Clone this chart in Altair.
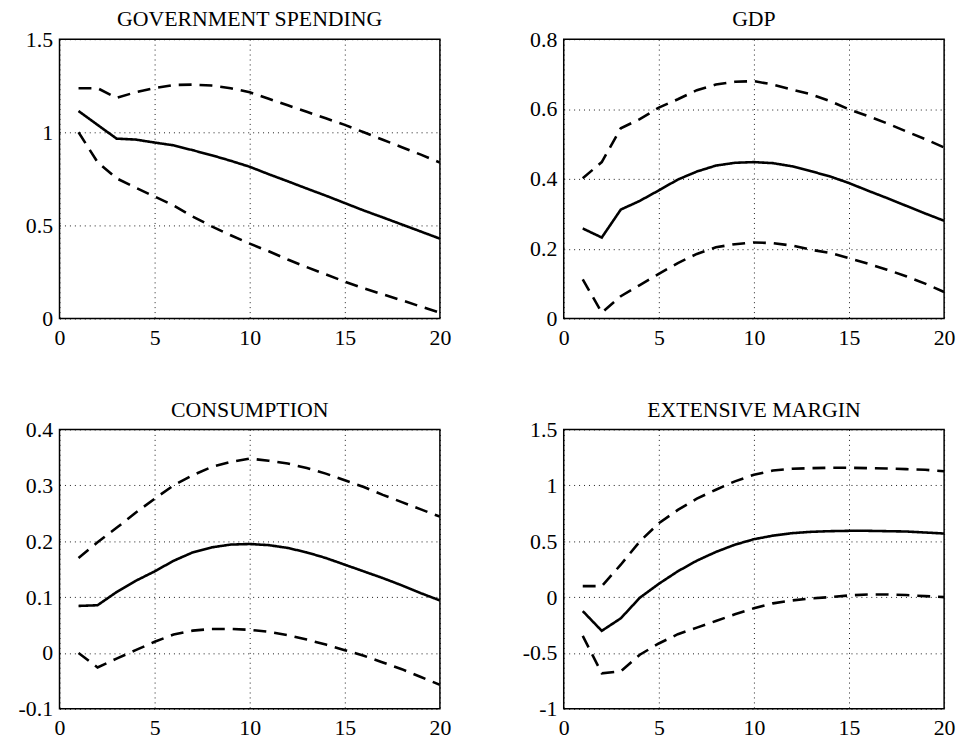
import altair as alt
import pandas as pd

periods = list(range(1, 21))

panel_titles = ["GOVERNMENT SPENDING", "GDP", "CONSUMPTION", "EXTENSIVE MARGIN"]

# GOVERNMENT SPENDING
gov_mid = [1.114, 1.04, 0.966, 0.961, 0.945, 0.93, 0.904, 0.877, 0.847, 0.815,
           0.775, 0.737, 0.698, 0.66, 0.62, 0.58, 0.543, 0.505, 0.467, 0.429]
gov_hi = [1.237, 1.237, 1.185, 1.215, 1.237, 1.254, 1.256, 1.251, 1.237, 1.215,
          1.18, 1.145, 1.11, 1.075, 1.04, 1.0, 0.96, 0.92, 0.88, 0.838]
gov_lo = [1.0, 0.84, 0.753, 0.703, 0.655, 0.607, 0.548, 0.495, 0.447, 0.402,
          0.361, 0.317, 0.276, 0.237, 0.198, 0.162, 0.13, 0.098, 0.064, 0.032]

# GDP
gdp_mid = [0.258, 0.232, 0.312, 0.337, 0.367, 0.398, 0.421, 0.438, 0.446, 0.448,
           0.445, 0.436, 0.422, 0.407, 0.388, 0.366, 0.345, 0.323, 0.301, 0.28]
gdp_hi = [0.402, 0.448, 0.545, 0.571, 0.604, 0.628, 0.654, 0.67, 0.678, 0.68,
          0.67, 0.656, 0.642, 0.623, 0.599, 0.58, 0.559, 0.536, 0.514, 0.49]
gdp_lo = [0.112, 0.017, 0.064, 0.096, 0.128, 0.159, 0.185, 0.204, 0.213, 0.218,
          0.216, 0.209, 0.197, 0.188, 0.173, 0.157, 0.14, 0.121, 0.10, 0.076]

# CONSUMPTION
con_mid = [0.0842, 0.0854, 0.109, 0.129, 0.146, 0.165, 0.18, 0.189, 0.194, 0.195,
           0.193, 0.188, 0.18, 0.17, 0.158, 0.146, 0.134, 0.121, 0.107, 0.094]
con_hi = [0.17, 0.198, 0.224, 0.251, 0.276, 0.30, 0.318, 0.333, 0.342, 0.348,
          0.344, 0.339, 0.331, 0.321, 0.309, 0.297, 0.283, 0.27, 0.257, 0.244]
con_lo = [0.0, -0.026, -0.01, 0.005, 0.02, 0.033, 0.04, 0.043, 0.043, 0.0415,
          0.038, 0.032, 0.024, 0.015, 0.005, -0.005, -0.017, -0.029, -0.043, -0.057]

# EXTENSIVE MARGIN
ext_mid = [-0.125, -0.302, -0.19, -0.006, 0.119, 0.231, 0.326, 0.404, 0.469, 0.518,
           0.55, 0.572, 0.584, 0.59, 0.593, 0.593, 0.59, 0.587, 0.578, 0.569]
ext_hi = [0.098, 0.098, 0.29, 0.498, 0.661, 0.78, 0.881, 0.961, 1.036, 1.095,
          1.133, 1.148, 1.154, 1.157, 1.157, 1.154, 1.151, 1.145, 1.139, 1.127]
ext_lo = [-0.347, -0.682, -0.664, -0.516, -0.415, -0.332, -0.273, -0.214, -0.154, -0.10,
          -0.056, -0.03, -0.012, 0.0, 0.015, 0.024, 0.024, 0.018, 0.009, 0.0]

x_ticks = [0, 5, 10, 15, 20]
y_ticks = [
    [0, 0.5, 1, 1.5],
    [0, 0.2, 0.4, 0.6, 0.8],
    [-0.1, 0, 0.1, 0.2, 0.3, 0.4],
    [-1, -0.5, 0, 0.5, 1, 1.5],
]
series = [
    (gov_mid, gov_lo, gov_hi),
    (gdp_mid, gdp_lo, gdp_hi),
    (con_mid, con_lo, con_hi),
    (ext_mid, ext_lo, ext_hi),
]

FONT = "Liberation Serif"


def panel(title, mid, lo, hi, yt):
    rows = []
    for name, vals, style in (("mid", mid, "solid"), ("lower", lo, "dashed"), ("upper", hi, "dashed")):
        for p, v in zip(periods, vals):
            rows.append({"period": p, "value": v, "band": name, "style": style})
    df = pd.DataFrame(rows)
    return alt.Chart(df, title=title).mark_line(color="black", strokeWidth=2.6, clip=True).encode(
        x=alt.X("period:Q",
                scale=alt.Scale(domain=[0, 20], nice=False, zero=False),
                axis=alt.Axis(values=x_ticks, title=None, labelFlush=False,
                              labelExpr="'' + datum.value")),
        y=alt.Y("value:Q",
                scale=alt.Scale(domain=[yt[0], yt[-1]], nice=False, zero=False),
                axis=alt.Axis(values=yt, title=None, labelFlush=False,
                              labelExpr="'' + datum.value")),
        detail="band:N",
        strokeDash=alt.StrokeDash("style:N",
                                  scale=alt.Scale(domain=["solid", "dashed"], range=[[1, 0], [13, 8]]),
                                  legend=None),
    ).properties(width=384, height=282)


panels = [panel(t, *s, yt) for t, s, yt in zip(panel_titles, series, y_ticks)]

chart = alt.concat(*panels, columns=2, spacing={"row": 49, "column": 70}).properties(
    padding={"left": 9, "top": -4, "right": 0, "bottom": 0},
    background="white",
).configure_view(
    stroke="black", strokeWidth=1.5
).configure_axis(
    domain=False,
    ticks=False,
    grid=True,
    gridColor="black",
    gridDash=[1, 4],
    gridWidth=1,
    gridOpacity=0.9,
    labelFont=FONT,
    labelFontSize=22,
    labelColor="black",
    labelPadding=7,
).configure_axisX(
    labelPadding=9,
).configure_title(
    font=FONT,
    fontSize=22,
    fontWeight="normal",
    color="black",
    offset=-3,
)

chart.save("out.html", embed_options={"renderer": "svg", "actions": False})
